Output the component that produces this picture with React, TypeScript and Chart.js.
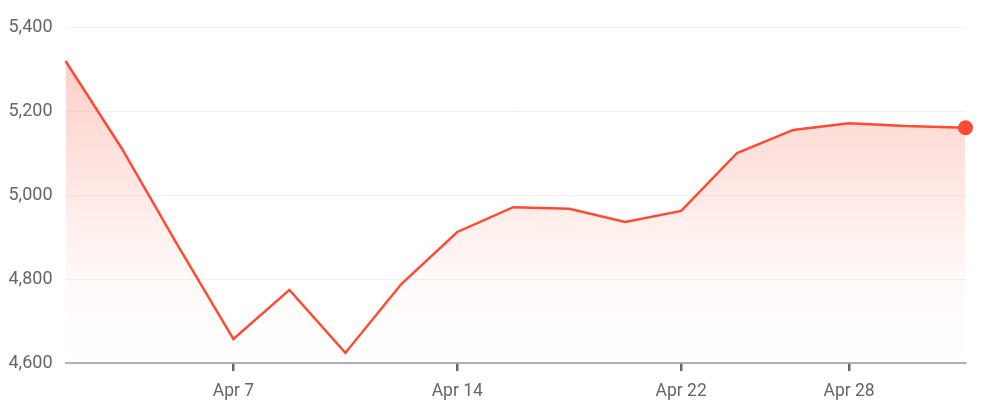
import React, { useEffect, useRef } from "react";
import { Chart, registerables } from "chart.js";

Chart.register(...registerables);

// trading-session position of each close (last one is the live, partial session)
const sessionIndex = [0, 1, 2, 3, 4, 5, 6, 7, 8, 9, 10, 11, 12, 13, 14, 15, 16.08];
const values = [
  5319, 5112, 4881, 4657, 4774, 4624, 4788, 4912, 4971,
  4967, 4936, 4962, 5100, 5155, 5171, 5164, 5160,
];
const tickSessions = [3, 7, 11, 14];
const tickLabels = ["Apr 7", "Apr 14", "Apr 22", "Apr 28"];
const yTicks = [4600, 4800, 5000, 5200, 5400];

const LINE = "#FF4B33";
const TEXT = "#666666";

export default function App() {
  const ref = useRef<HTMLCanvasElement | null>(null);
  useEffect(() => {
    document.body.style.margin = "0";
    const ctx = ref.current!.getContext("2d")!;
    const chart = new Chart(ctx, {
      type: "line",
      data: {
        datasets: [
          {
            data: values.map((v, i) => ({ x: sessionIndex[i], y: v })),
            borderColor: LINE,
            borderWidth: 2.5,
            tension: 0,
            fill: true,
            backgroundColor: (c: any) => {
              const area = c.chart.chartArea;
              if (!area) return "rgba(255,75,51,0.2)";
              const g = c.chart.ctx.createLinearGradient(0, area.top, 0, area.bottom);
              g.addColorStop(0, "rgba(255,75,51,0.30)");
              g.addColorStop(0.75, "rgba(255,75,51,0.03)");
              g.addColorStop(1, "rgba(255,75,51,0)");
              return g;
            },
            pointRadius: values.map((_, i) => (i === values.length - 1 ? 7.5 : 0)),
            pointHoverRadius: 0,
            pointBackgroundColor: LINE,
            pointBorderWidth: 0,
            clip: false as any,
          },
        ],
      },
      options: {
        animation: false,
        responsive: false,
        maintainAspectRatio: false,
        parsing: true,
        layout: { padding: { top: 27, right: 25.5, left: 0, bottom: 0 } },
        plugins: { legend: { display: false }, tooltip: { enabled: false } },
        scales: {
          x: {
            type: "linear",
            min: sessionIndex[0],
            max: sessionIndex[sessionIndex.length - 1],
            afterBuildTicks: (s: any) => {
              s.ticks = tickSessions.map((v) => ({ value: v }));
            },
            grid: {
              drawOnChartArea: false,
              drawTicks: true,
              tickLength: 8,
              color: "#666666",
              lineWidth: 2.5,
            },
            border: { display: true, color: "#b0b0b0", width: 2 },
            ticks: {
              autoSkip: false,
              maxRotation: 0,
              padding: 10,
              color: TEXT,
              font: { family: "Roboto", size: 17.5 },
              callback: (v: any) => {
                const k = tickSessions.indexOf(Number(v));
                return k >= 0 ? tickLabels[k] : null;
              },
            },
            afterFit: (s: any) => {
              s.height = 48;
            },
          },
          y: {
            min: 4600,
            max: 5400,
            afterBuildTicks: (s: any) => {
              s.ticks = yTicks.map((v) => ({ value: v }));
            },
            grid: { color: "#f0f0f0", lineWidth: 1, drawTicks: false },
            border: { display: false },
            ticks: {
              padding: 13,
              color: TEXT,
              font: { family: "Roboto", size: 18 },
              callback: (v: any) => Number(v).toLocaleString("en-US"),
            },
            afterFit: (s: any) => {
              s.width = 65.5;
            },
          },
        },
      },
    });
    return () => chart.destroy();
  }, []);
  return (
    <div style={{ position: "absolute", left: 0, top: 0, width: 991, height: 411 }}>
      <canvas ref={ref} width={991} height={411} style={{ width: 991, height: 411 }} />
    </div>
  );
}
